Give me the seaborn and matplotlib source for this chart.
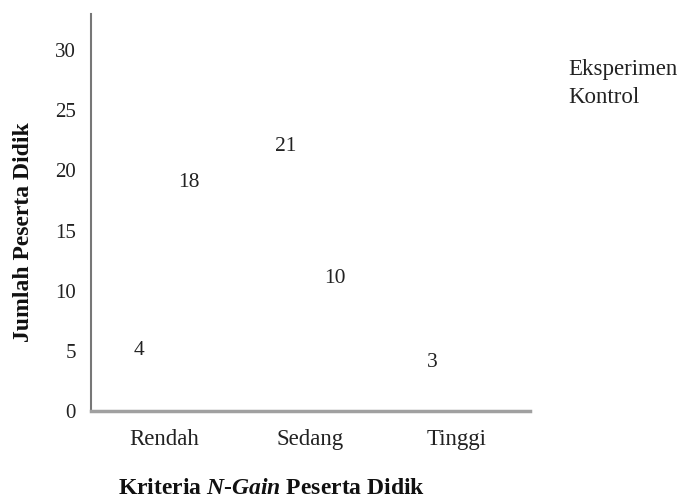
import matplotlib
matplotlib.use("Agg")
import matplotlib.pyplot as plt
import seaborn as sns
import pandas as pd

categories = ["Rendah", "Sedang", "Tinggi"]
groups = ["Eksperimen", "Kontrol"]
eksperimen = [4, 21, 3]
kontrol = [18, 10, 0]
yticks = [0, 5, 10, 15, 20, 25, 30]

df = pd.DataFrame({
    "Kriteria": categories * 2,
    "Kelompok": [groups[0]] * 3 + [groups[1]] * 3,
    "Jumlah": eksperimen + kontrol,
})

sns.set_style("white")
plt.rcParams["font.family"] = ["Liberation Serif", "DejaVu Serif"]
plt.rcParams["mathtext.fontset"] = "custom"
plt.rcParams["mathtext.it"] = "Liberation Serif:italic:bold"
plt.rcParams["mathtext.rm"] = "Liberation Serif:bold"
plt.rcParams["mathtext.bf"] = "Liberation Serif:bold"

fig = plt.figure(figsize=(6.81, 4.99), dpi=100)
ax = fig.add_axes([91/681, 1-411/499, (530-91)/681, (411-14)/499])

sns.barplot(data=df, x="Kriteria", y="Jumlah", hue="Kelompok",
            palette=["white", "white"], width=0.68, ax=ax,
            order=categories, hue_order=groups, linewidth=0)

for cont in ax.containers:
    labels = [f"{v:g}" if v > 0 else "" for v in cont.datavalues]
    ax.bar_label(cont, labels=labels, padding=2, fontsize=15.5, color="#222")

ax.set_ylim(0, 33)
ax.set_xlim(-0.5, 2.5)
ax.set_yticks(yticks)
ax.set_yticklabels([str(t) for t in yticks], fontsize=15, color="#222")
ax.tick_params(axis="x", labelsize=16.5, colors="#222", length=0, pad=13)
ax.tick_params(axis="y", length=0, pad=11)

ax.set_xlabel("Kriteria $\\mathit{N}$-$\\mathit{Gain}$ Peserta Didik", fontsize=17,
              fontweight="bold", color="#111")
ax.xaxis.set_label_coords(272/681, 1-488/499, transform=fig.transFigure)
ax.xaxis.label.set_va("center")
ax.set_ylabel("Jumlah Peserta Didik", fontsize=17, fontweight="bold",
              color="#111")
ax.yaxis.set_label_coords(24/681, 1-232/499, transform=fig.transFigure)
ax.yaxis.label.set_va("center")

for s in ["top", "right"]:
    ax.spines[s].set_visible(False)
ax.spines["left"].set_color("#777777")
ax.spines["left"].set_linewidth(1.5)
ax.spines["bottom"].set_color("#a0a0a0")
ax.spines["bottom"].set_linewidth(2.5)

leg = ax.legend(loc="upper left", bbox_to_anchor=(557/681, 1-48/499),
                bbox_transform=fig.transFigure, frameon=False,
                handlelength=0, handletextpad=0, fontsize=16.5,
                labelspacing=0.3, borderpad=0)
for t in leg.get_texts():
    t.set_color("#222")

fig.savefig("out.png", dpi=100)
